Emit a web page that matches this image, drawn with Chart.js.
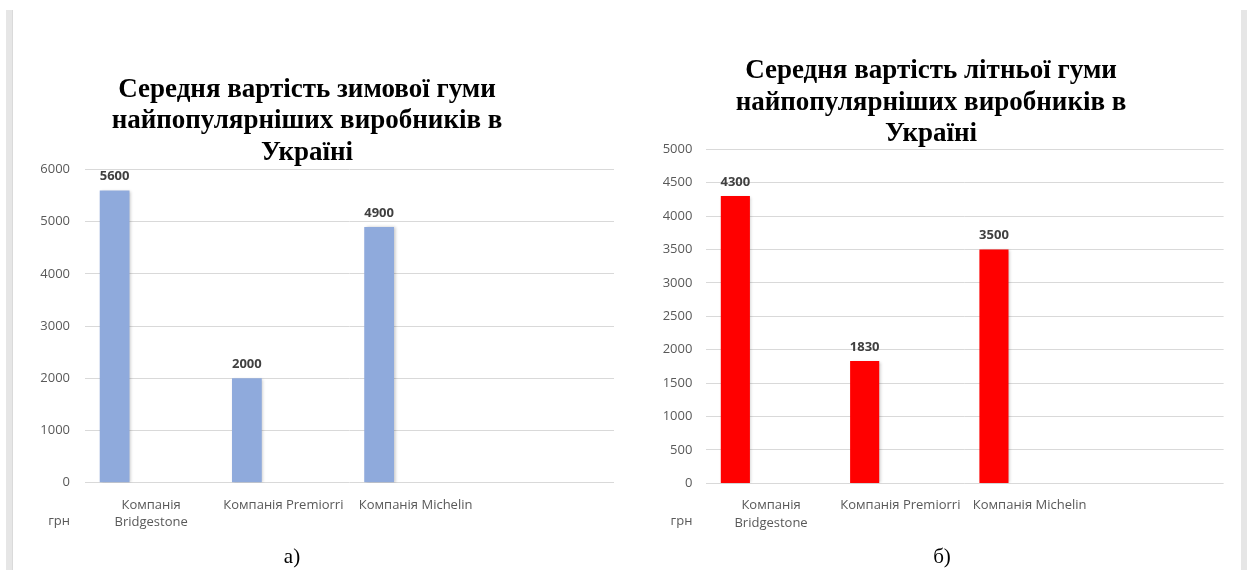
<!DOCTYPE html>
<html>
<head>
<meta charset="utf-8">
<script src="https://cdn.jsdelivr.net/npm/chart.js@4.4.1/dist/chart.umd.min.js"></script>
<style>
  html, body { margin: 0; padding: 0; background: #fff; }
  body { width: 1247px; height: 570px; position: relative; overflow: hidden; }
  .side { position: absolute; top: 10px; bottom: 0; width: 6px; background: #e6e6e6; border-right: 1px solid #dadada; }
  .box { position: absolute; top: 0; height: 545px; }
  .cap { position: absolute; font-family: "Liberation Serif", serif; font-size: 21px; color: #000; transform: translate(-50%, -50%); white-space: nowrap; }
  .title { position: absolute; transform: translateX(-50%); text-align: center; white-space: nowrap;
           font-family: "Liberation Serif", "Times New Roman", serif; font-weight: bold; font-size: 27px; line-height: 31.5px; color: #000; }
</style>
</head>
<body>
<div class="side" style="left:6px"></div>
<div class="side" style="left:1241px"></div>
<div class="box" style="left:15px;width:605px"><canvas id="c1"></canvas></div>
<div class="box" style="left:625px;width:610px"><canvas id="c2"></canvas></div>
<div class="title" id="t1" style="left:307px;top:72.5px"></div>
<div class="title" id="t2" style="left:931px;top:54px"></div>
<div class="cap" style="left:292px;top:556px">а)</div>
<div class="cap" style="left:942px;top:556px">б)</div>
<script>
// ---- data ----
const categories = [['Компанія', 'Bridgestone'], 'Компанія Premiorri', 'Компанія Michelin', ''];
const winterPrices = [5600, 2000, 4900, null];
const summerPrices = [4300, 1830, 3500, null];
const placeholder = [null, null, null, null];
const winterTitle = ['Середня вартість зимової гуми', 'найпопулярніших виробників в', 'Україні'];
const summerTitle = ['Середня вартість літньої гуми', 'найпопулярніших виробників в', 'Україні'];
const winterAxis = { min: 0, max: 6000, step: 1000 };
const summerAxis = { min: 0, max: 5000, step: 500 };
const unitLabel = 'грн';

function setTitle(id, lines) {
  const el = document.getElementById(id);
  lines.forEach((l, i) => {
    if (i) el.appendChild(document.createElement('br'));
    el.appendChild(document.createTextNode(l));
  });
}
setTitle('t1', winterTitle);
setTitle('t2', summerTitle);

const tickFont = { family: '"Open Sans", "Liberation Sans", sans-serif', size: 13 };
const tickColor = '#595959';

const barLabels = {
  id: 'barLabels',
  beforeDatasetsDraw(chart) {
    const ctx = chart.ctx;
    ctx.save();
    ctx.shadowColor = 'rgba(0,0,0,0.22)';
    ctx.shadowBlur = 3;
    ctx.shadowOffsetX = 1.5;
    ctx.shadowOffsetY = 0.5;
  },
  afterDatasetsDraw(chart) {
    const ctx = chart.ctx;
    ctx.restore();
    ctx.save();
    const meta = chart.getDatasetMeta(0);
    const data = chart.data.datasets[0].data;
    ctx.font = 'bold 13px "Open Sans", "Liberation Sans", sans-serif';
    ctx.fillStyle = '#404040';
    ctx.textAlign = 'center';
    ctx.textBaseline = 'middle';
    meta.data.forEach((bar, i) => {
      if (data[i] == null) return;
      ctx.fillText(String(data[i]), bar.x, bar.y - 14);
    });
    const o = chart.options.plugins.barLabels;
    ctx.font = '13px "Open Sans", "Liberation Sans", sans-serif';
    ctx.fillStyle = tickColor;
    ctx.textAlign = 'right';
    ctx.fillText(unitLabel, chart.chartArea.left - o.yPad, chart.chartArea.bottom + o.unitDy);
    ctx.restore();
  }
};

function makeChart(id, cfg) {
  return new Chart(document.getElementById(id), {
    type: 'bar',
    data: {
      labels: categories,
      datasets: [
        { data: cfg.values, backgroundColor: cfg.color, borderWidth: 0, categoryPercentage: 1.104, barPercentage: 0.408 },
        { data: placeholder, backgroundColor: cfg.color, borderWidth: 0, categoryPercentage: 1.104, barPercentage: 0.408 }
      ]
    },
    options: {
      responsive: true,
      maintainAspectRatio: false,
      animation: false,
      devicePixelRatio: 1,
      layout: { padding: { top: cfg.padTop, right: cfg.padRight, left: 0, bottom: 0 } },
      plugins: {
        legend: { display: false },
        tooltip: { enabled: false },
        title: { display: false },
        barLabels: { yPad: cfg.yPad, unitDy: 38.3 }
      },
      scales: {
        x: {
          grid: { display: false },
          border: { display: false },
          ticks: { color: tickColor, font: { ...tickFont, lineHeight: 1.35 }, padding: 5.5, maxRotation: 0, autoSkip: false },
          afterFit(s) { s.height = cfg.xHeight; }
        },
        y: {
          min: cfg.axis.min, max: cfg.axis.max,
          grid: { color: '#d9d9d9', lineWidth: 1, drawTicks: false },
          border: { display: false },
          ticks: { stepSize: cfg.axis.step, color: tickColor, font: tickFont, padding: cfg.yPad,
                   callback: (v) => String(v) },
          afterFit(s) { s.width = cfg.yWidth; }
        }
      }
    },
    plugins: [barLabels]
  });
}

makeChart('c1', {
  values: winterPrices, color: '#8faadc', axis: winterAxis,
  padTop: 169.5, padRight: 6, yWidth: 70, yPad: 15, xHeight: 62.3
});
makeChart('c2', {
  values: summerPrices, color: '#ff0000', axis: summerAxis,
  padTop: 149.3, padRight: 11.4, yWidth: 81.4, yPad: 14, xHeight: 61.6
});
</script>
</body>
</html>
